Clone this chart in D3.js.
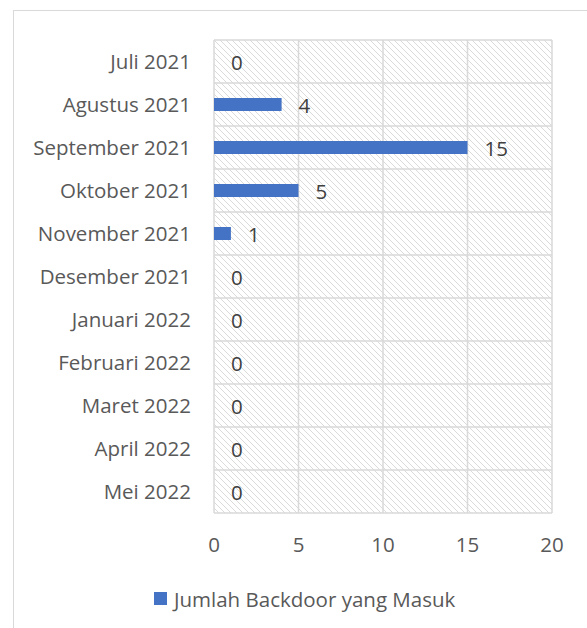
<!DOCTYPE html>
<html>
<head>
<meta charset="utf-8">
<script src="https://cdn.jsdelivr.net/npm/d3@7"></script>
<style>
  body { margin: 0; background: #fff; }
</style>
</head>
<body>
<div class="container"></div>
<script>
// data
var months = ["Juli 2021", "Agustus 2021", "September 2021", "Oktober 2021", "November 2021",
              "Desember 2021", "Januari 2022", "Februari 2022", "Maret 2022", "April 2022", "Mei 2022"];
var counts = [0, 4, 15, 5, 1, 0, 0, 0, 0, 0, 0];
var xTicks = [0, 5, 10, 15, 20];
var seriesName = "Jumlah Backdoor yang Masuk";

var W = 587, H = 628;
var font = "'Open Sans', sans-serif";
var fsize = 20.5;
var textColor = "#595959";
var barColor = "#4472c4";

var svg = d3.select(".container")
  .append("svg")
  .attr("width", W)
  .attr("height", H);

// hatch fill of the plot area
var defs = svg.append("defs");
var pat = defs.append("pattern")
  .attr("id", "hatch")
  .attr("patternUnits", "userSpaceOnUse")
  .attr("width", 6)
  .attr("height", 6);
pat.append("rect").attr("width", 6).attr("height", 6).attr("fill", "#fff");
pat.append("path")
  .attr("d", "M0,0 L6,6 M-1,5 L1,7 M5,-1 L7,1")
  .attr("stroke", "#dadada")
  .attr("stroke-width", 1);

// chart border (only top and left show in the picture)
svg.append("rect")
  .attr("x", 13.5).attr("y", 10.5)
  .attr("width", W).attr("height", H)
  .attr("fill", "none")
  .attr("stroke", "#d9d9d9");

var x = d3.scaleLinear().domain([0, 20]).range([214, 552]);
var y = d3.scaleBand().domain(months).range([40, 513]);

svg.append("rect")
  .attr("x", x(0)).attr("y", y.range()[0])
  .attr("width", x(20) - x(0))
  .attr("height", y.range()[1] - y.range()[0])
  .attr("fill", "url(#hatch)");

// vertical gridlines
svg.append("g").selectAll("line")
  .data(xTicks)
  .join("line")
  .attr("x1", d => x(d)).attr("x2", d => x(d))
  .attr("y1", 40).attr("y2", 513)
  .attr("stroke", "#d9d9d9").attr("stroke-width", 1.5);

// horizontal row lines
var rowEdges = months.map(m => y(m)).concat([y.range()[1]]);
svg.append("g").selectAll("line")
  .data(rowEdges)
  .join("line")
  .attr("x1", x(0)).attr("x2", x(20))
  .attr("y1", d => d).attr("y2", d => d)
  .attr("stroke", "#d9d9d9").attr("stroke-width", 1.5);

// bars
var barH = 13;
svg.append("g").selectAll("rect")
  .data(counts)
  .join("rect")
  .attr("x", x(0))
  .attr("y", (d, i) => y(months[i]) + y.bandwidth() / 2 - barH / 2)
  .attr("width", d => x(d) - x(0))
  .attr("height", barH)
  .attr("fill", barColor);

// value labels
svg.append("g").selectAll("text")
  .data(counts)
  .join("text")
  .text(d => d)
  .attr("x", d => x(d) + 17)
  .attr("y", (d, i) => y(months[i]) + y.bandwidth() / 2 + 8.5)
  .attr("font-family", font)
  .attr("font-size", fsize)
  .attr("fill", "#404040");

// category labels
svg.append("g").selectAll("text")
  .data(months)
  .join("text")
  .text(d => d)
  .attr("x", 191)
  .attr("y", d => y(d) + y.bandwidth() / 2 + 7)
  .attr("text-anchor", "end")
  .attr("font-family", font)
  .attr("font-size", fsize)
  .attr("fill", textColor);

// x tick labels
svg.append("g").selectAll("text")
  .data(xTicks)
  .join("text")
  .text(d => d)
  .attr("x", d => x(d))
  .attr("y", 552)
  .attr("text-anchor", "middle")
  .attr("font-family", font)
  .attr("font-size", fsize)
  .attr("fill", textColor);

// legend
svg.append("rect")
  .attr("x", 154).attr("y", 592)
  .attr("width", 13).attr("height", 13)
  .attr("fill", barColor);
svg.append("text")
  .text(seriesName)
  .attr("x", 174).attr("y", 607)
  .attr("font-family", font)
  .attr("font-size", fsize)
  .attr("fill", textColor);
</script>
</body>
</html>
